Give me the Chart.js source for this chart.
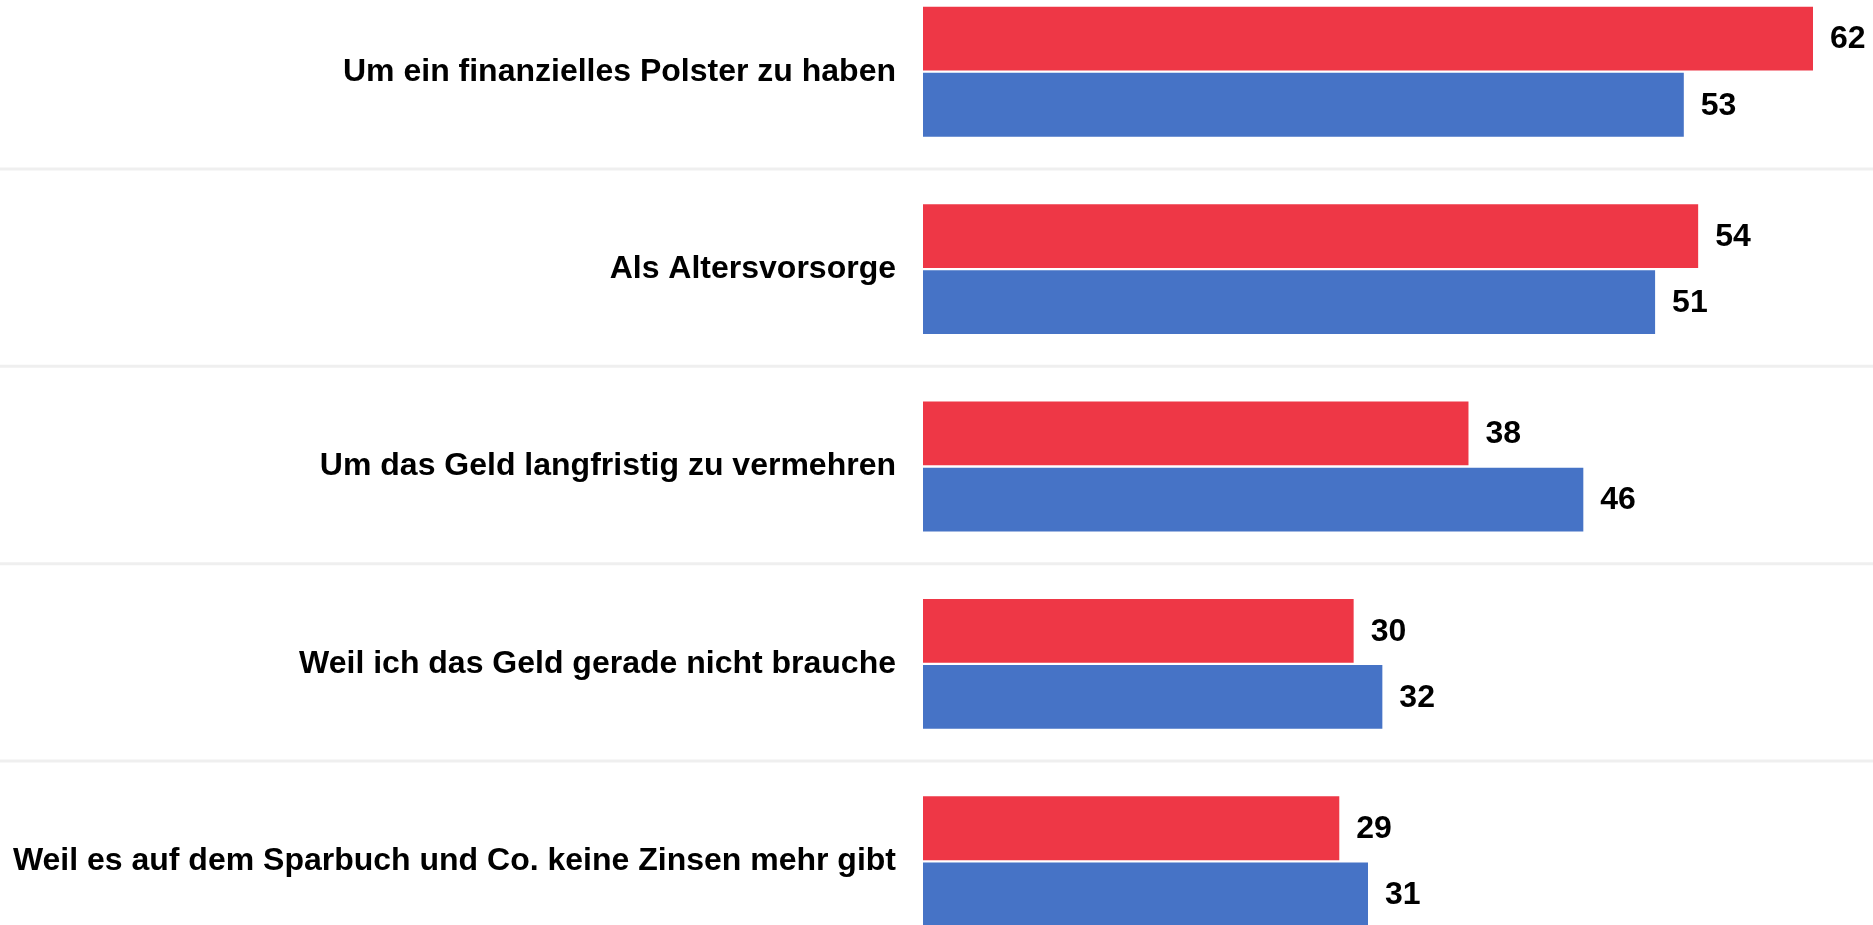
<!DOCTYPE html>
<html>
<head>
<meta charset="utf-8">
<script src="https://cdn.jsdelivr.net/npm/chart.js@4/dist/chart.umd.min.js"></script>
<style>
  html, body { margin: 0; padding: 0; background: #ffffff; overflow: hidden; width: 1873px; height: 925px; }
  #wrap { position: absolute; left: 0; top: -27px; width: 1873px; height: 987px; }
</style>
</head>
<body>
<div id="wrap"><canvas id="c" width="1873" height="987"></canvas></div>
<script>
// ---- Data ----
const categories = [
  'Um ein finanzielles Polster zu haben',
  'Als Altersvorsorge',
  'Um das Geld langfristig zu vermehren',
  'Weil ich das Geld gerade nicht brauche',
  'Weil es auf dem Sparbuch und Co. keine Zinsen mehr gibt'
];
const seriesRedName = 'Gruppe 1';
const seriesRed = [62, 54, 38, 30, 29];
const seriesBlueName = 'Gruppe 2';
const seriesBlue = [53, 51, 46, 32, 31];

// ---- Styles ----
const RED = '#EE3746';
const BLUE = '#4673C6';
const FONT = '"Liberation Sans", Arial, Helvetica, sans-serif';

Chart.defaults.font.family = FONT;

const separatorPlugin = {
  id: 'separators',
  beforeDatasetsDraw(chart) {
    const y = chart.scales.y;
    const ctx = chart.ctx;
    ctx.save();
    ctx.strokeStyle = '#EFEFEF';
    ctx.lineWidth = 3;
    for (let i = 0; i < categories.length - 1; i++) {
      const p = (y.getPixelForValue(i) + y.getPixelForValue(i + 1)) / 2 - 1.5;
      ctx.beginPath();
      ctx.moveTo(0, p);
      ctx.lineTo(chart.width, p);
      ctx.stroke();
    }
    ctx.restore();
  }
};

const valueLabelPlugin = {
  id: 'valueLabels',
  afterDatasetsDraw(chart) {
    const ctx = chart.ctx;
    ctx.save();
    ctx.font = 'bold 32px ' + FONT;
    ctx.fillStyle = '#000000';
    ctx.textAlign = 'left';
    ctx.textBaseline = 'middle';
    chart.data.datasets.forEach((ds, di) => {
      const meta = chart.getDatasetMeta(di);
      meta.data.forEach((bar, i) => {
        ctx.fillText(String(ds.data[i]), bar.x + 17, bar.y + 1);
      });
    });
    ctx.restore();
  }
};

new Chart(document.getElementById('c'), {
  type: 'bar',
  data: {
    labels: categories,
    datasets: [
      { label: seriesRedName, data: seriesRed, backgroundColor: RED, borderWidth: 0,
        categoryPercentage: 0.67, barPercentage: 0.965 },
      { label: seriesBlueName, data: seriesBlue, backgroundColor: BLUE, borderWidth: 0,
        categoryPercentage: 0.67, barPercentage: 0.965 }
    ]
  },
  options: {
    indexAxis: 'y',
    responsive: false,
    animation: false,
    devicePixelRatio: 1,
    layout: { padding: { left: 0, right: 60, top: 0, bottom: 0 } },
    plugins: {
      legend: { display: false },
      tooltip: { enabled: false },
      title: { display: false }
    },
    scales: {
      x: {
        display: false,
        min: 0,
        max: Math.max(...seriesRed, ...seriesBlue)
      },
      y: {
        grid: { display: false, drawTicks: false },
        border: { display: false },
        ticks: {
          color: '#000000',
          font: { size: 32, weight: 'bold', family: FONT },
          padding: 27,
          autoSkip: false
        },
        afterFit(scale) {
          scale.width = 923;
          scale.paddingTop = 0;
          scale.paddingBottom = 0;
        }
      }
    }
  },
  plugins: [separatorPlugin, valueLabelPlugin]
});
</script>
</body>
</html>
